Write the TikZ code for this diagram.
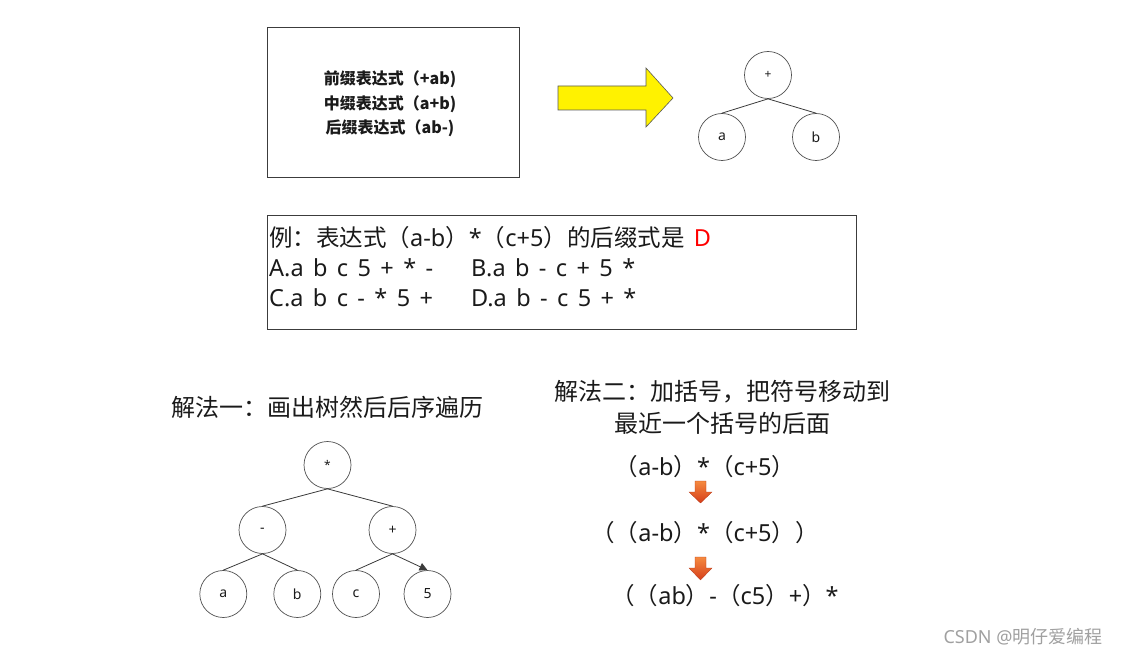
\documentclass[tikz,border=0pt]{standalone}
\usepackage{fontspec}
\setmainfont{Noto Sans CJK SC}
\newfontfamily\lat{Noto Sans}
\newcommand\widespacing{\spaceskip=0.4em\relax}
\usetikzlibrary{arrows.meta}
\definecolor{ink}{HTML}{1A1A1A}
\definecolor{edgec}{HTML}{3A3A3A}
\definecolor{ring}{HTML}{505050}
\definecolor{arrowtop}{HTML}{F58A40}
\definecolor{arrowbot}{HTML}{D63E1A}
\definecolor{markc}{HTML}{A0A0A0}
\begin{document}
\begin{tikzpicture}[x=1pt,y=-1pt,
  treenode/.style={circle,draw=ring,line width=0.7pt,minimum size=47pt,inner sep=0pt,font=\lat\fontsize{14}{14}\selectfont,text=ink},
  branch/.style={draw=edgec,line width=0.8pt},
  frame/.style={draw=ink!85,line width=0.8pt,inner sep=0pt},
  qtext/.style={anchor=west,inner sep=0pt,text=ink,font=\fontsize{23.5}{23.5}\selectfont\widespacing},
  heading/.style={inner sep=0pt,text=ink,font=\fontsize{24}{32}\selectfont},
  expr/.style={inner sep=0pt,text=ink,font=\fontsize{23.5}{23.5}\selectfont},
  downarrow/.style={top color=arrowtop,bottom color=arrowbot,draw=arrowbot!85!black,line width=0.3pt}
]
\useasboundingbox (0,0) rectangle (1124,660);

% definition box
\node[frame,minimum width=252pt,minimum height=150pt] (defbox) at (393,102) {};
\node[align=center,inner sep=0pt,font=\fontsize{16}{24.5}\selectfont\bfseries,text=ink] (deftext) at (390,104)
  {前缀表达式（+ab)\\中缀表达式（a+b)\\后缀表达式（ab-)};

% big yellow arrow
\path[fill=yellow,draw=black!65,line width=0.6pt]
  (558,86) -- (646,86) -- (646,68) -- (673,98) -- (646,127) -- (646,110) -- (558,110) -- cycle;

% small tree
\node[treenode,font=\lat\fontsize{12}{12}\selectfont] (tp) at (768,75) {+};
\node[treenode] (ta) at (722,137) {a};
\node[treenode] (tb) at (816,137) {b};
\draw[branch] (tp.south) -- (ta.north);
\draw[branch] (tp.south) -- (tb.north);

% example box
\node[frame,minimum width=589pt,minimum height=114pt] (qbox) at (561.5,272) {};
\node[qtext] (q1) at (269,238) {例：表达式（{\lat a-b}）{\lat *}（{\lat c+5}）的后缀式是{\lat\ \textcolor{red}{D}}};
\node[qtext] (qa) at (269,268) {\lat A.a b c 5 + * -};
\node[qtext] (qb) at (471,268) {\lat B.a b - c + 5 *};
\node[qtext] (qc) at (269,298) {\lat C.a b c - * 5 +};
\node[qtext] (qd) at (471,298) {\lat D.a b - c 5 + *};

% method one
\node[heading] (m1) at (327,407) {解法一：画出树然后后序遍历};
\node[treenode,font=\lat\fontsize{12}{12}\selectfont] (rmul) at (327.5,465) {*};
\node[treenode] (rminus) at (262.5,530) {-};
\node[treenode] (rplus) at (392.5,530) {+};
\node[treenode] (la) at (223.3,594) {a};
\node[treenode] (lb) at (297.3,594) {b};
\node[treenode] (lc) at (356,594) {c};
\node[treenode] (l5) at (427.5,594) {5};
\draw[branch] (rmul.south) -- (rminus.north);
\draw[branch] (rmul.south) -- (rplus.north);
\draw[branch] (rminus.south) -- (la.north);
\draw[branch] (rminus.south) -- (lb.north);
\draw[branch] (rplus.south) -- (lc.north);
\draw[branch,-{Triangle[length=8pt,width=8pt]}] (rplus.south) -- (l5.north);

% method two
\node[heading,align=center] (m2) at (722,407) {解法二：加括号，把符号移动到\\最近一个括号的后面};
\node[expr] (e1) at (705,467) {（{\lat a-b}）{\lat *}（{\lat c+5}）};
\node[expr] (e2) at (705,533) {（（{\lat a-b}）{\lat *}（{\lat c+5}））};
\node[expr] (e3) at (725,596) {（（{\lat ab}）{\lat -}（{\lat c5}）{\lat +}）{\lat *}};
\path[downarrow] (695,481) -- (706,481) -- (706,492) -- (712,492) -- (700.5,503) -- (689,492) -- (695,492) -- cycle;
\path[downarrow] (695,557) -- (706,557) -- (706,568) -- (712,568) -- (700.5,580) -- (689,568) -- (695,568) -- cycle;

% watermark
\node[inner sep=0pt,text=markc,font=\fontsize{18}{18}\selectfont] (wm) at (1023,637) {{\lat CSDN @}明仔爱编程};
\end{tikzpicture}
\end{document}
